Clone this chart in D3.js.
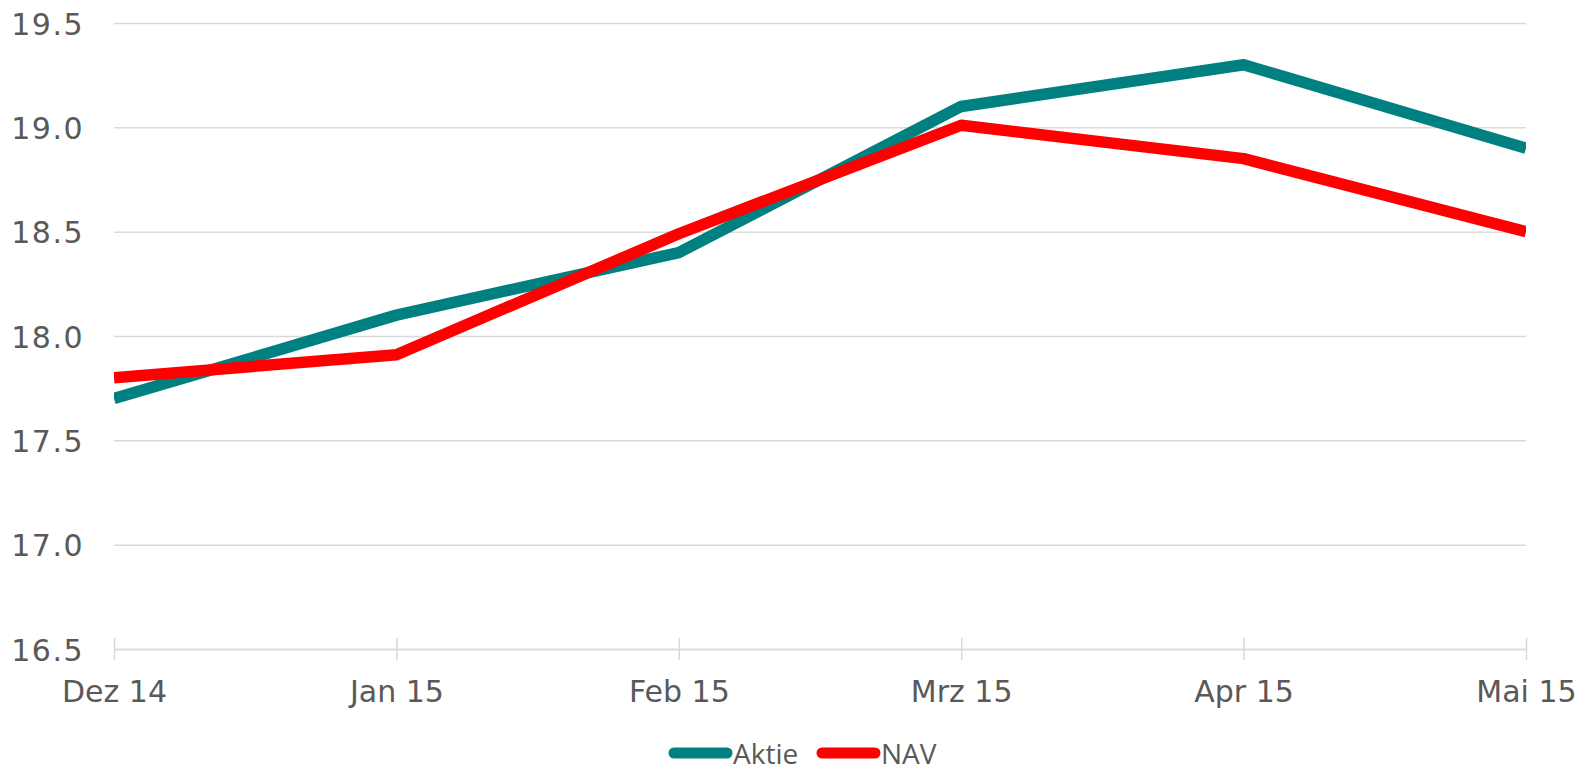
<!DOCTYPE html>
<html>
<head>
<meta charset="utf-8">
<script src="https://cdn.jsdelivr.net/npm/d3@7"></script>
<style>
  body { margin: 0; background: #fff; }
  svg { display: block; }
</style>
</head>
<body>
<svg id="chart"></svg>
<script>
// chart values
var months = ["Dez 14", "Jan 15", "Feb 15", "Mrz 15", "Apr 15", "Mai 15"];
var aktie = [17.70, 18.10, 18.40, 19.10, 19.30, 18.90];
var nav = [17.80, 17.91, 18.49, 19.01, 18.85, 18.50];
var yTicks = [16.5, 17.0, 17.5, 18.0, 18.5, 19.0, 19.5];

var series = [
    { name: "Aktie", values: aktie, color: "#008080" },
    { name: "NAV", values: nav, color: "#ff0000" }
];

var width = 1591, height = 766;
var plotLeft = 114, plotRight = 1526, plotTop = 23, plotBottom = 649;

var svg = d3.select("#chart")
    .attr("width", width)
    .attr("height", height);

var x = d3.scalePoint()
    .domain(months)
    .range([plotLeft, plotRight]);

var y = d3.scaleLinear()
    .domain([16.5, 19.5])
    .range([plotBottom, plotTop]);

var txt = "#595959", grid = "#d9d9d9";

// horizontal grid + y labels
var yAxis = svg.append("g")
    .attr("transform", "translate(" + plotLeft + ",0)")
    .call(d3.axisLeft(y)
        .tickValues(yTicks)
        .tickFormat(d3.format(".1f"))
        .tickSize(-(plotRight - plotLeft))
        .tickPadding(30));
yAxis.select(".domain").remove();
yAxis.selectAll(".tick line")
    .attr("stroke", grid)
    .attr("stroke-width", 1.5);
yAxis.selectAll(".tick text")
    .attr("fill", txt)
    .attr("dy", "0.37em")
    .style("font-family", "DejaVu Sans")
    .style("font-size", "30px")
    .style("letter-spacing", "1.5px");

// x axis with ticks crossing the baseline
var xAxis = svg.append("g")
    .attr("transform", "translate(0," + plotBottom + ")")
    .call(d3.axisBottom(x).tickSize(11).tickSizeOuter(0));
xAxis.select(".domain")
    .attr("stroke", grid)
    .attr("stroke-width", 1.5);
xAxis.selectAll(".tick line")
    .attr("y1", -11)
    .attr("y2", 11)
    .attr("stroke", grid)
    .attr("stroke-width", 1.5);
xAxis.selectAll(".tick text")
    .attr("y", 53)
    .attr("dy", 0)
    .attr("fill", txt)
    .style("font-family", "DejaVu Sans")
    .style("font-size", "30px");

svg.append("clipPath")
    .attr("id", "plot")
    .append("rect")
    .attr("x", plotLeft)
    .attr("y", 0)
    .attr("width", plotRight - plotLeft)
    .attr("height", height);

var line = d3.line()
    .x(function (d, i) { return x(months[i]); })
    .y(function (d) { return y(d); });

svg.append("g")
    .attr("clip-path", "url(#plot)")
    .selectAll("path")
    .data(series)
    .enter()
    .append("path")
    .attr("d", function (d) { return line(d.values); })
    .attr("fill", "none")
    .attr("stroke", function (d) { return d.color; })
    .attr("stroke-width", 11.5)
    .attr("stroke-linejoin", "round");

// legend
var legendX = [669, 817];
var legend = svg.append("g")
    .selectAll("g")
    .data(series)
    .enter()
    .append("g")
    .attr("transform", function (d, i) { return "translate(" + legendX[i] + ",753)"; });

legend.append("line")
    .attr("x1", 5)
    .attr("x2", 58)
    .attr("stroke", function (d) { return d.color; })
    .attr("stroke-width", 11)
    .attr("stroke-linecap", "round");

legend.append("text")
    .attr("x", 64)
    .attr("y", 11)
    .attr("fill", txt)
    .style("font-family", "Open Sans")
    .style("font-size", "28px")
    .text(function (d) { return d.name; });
</script>
</body>
</html>
